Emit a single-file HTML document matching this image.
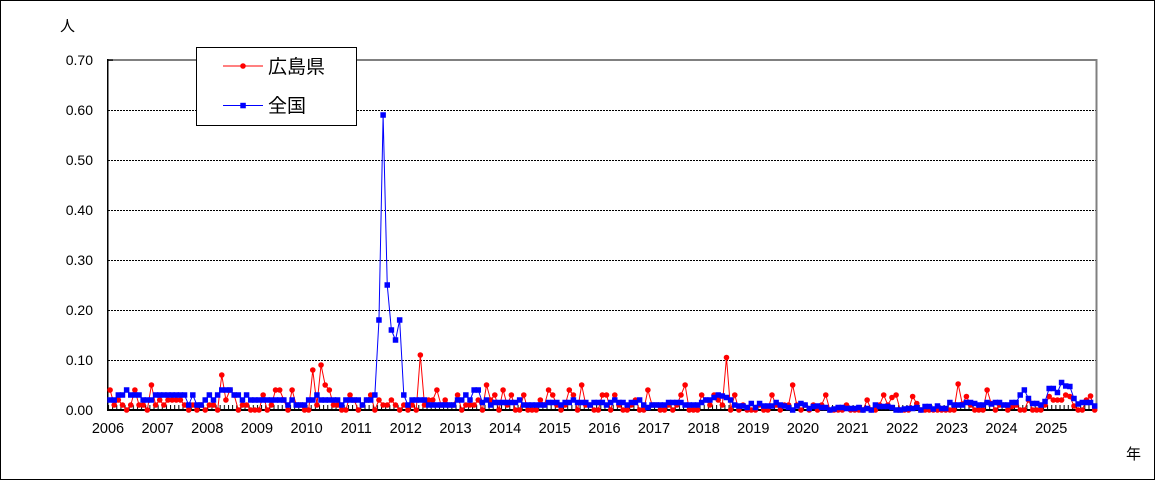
<!DOCTYPE html>
<html><head><meta charset="utf-8">
<style>
html,body{margin:0;padding:0;background:#fff;}
#wrap{position:relative;width:1155px;height:480px;overflow:hidden;}
svg{position:absolute;left:0;top:0;}
text{font-family:"Liberation Sans","Noto Sans CJK JP",sans-serif;fill:#000;}
</style></head>
<body><div id="wrap">
<svg id="chart" width="1155" height="480" viewBox="0 0 1155 480" xmlns="http://www.w3.org/2000/svg">
<defs>
<pattern id="tk" x="108" y="405" width="4.137" height="5" patternUnits="userSpaceOnUse">
<rect x="0" y="0" width="1" height="5" fill="#000"/>
</pattern>
</defs>
<rect x="0.5" y="0.5" width="1154" height="479" fill="#fff" stroke="#000" stroke-width="1"/>
<g stroke="#000" stroke-width="1" stroke-dasharray="2,1">
<line x1="108" y1="110.5" x2="1096" y2="110.5"/>
<line x1="108" y1="160.5" x2="1096" y2="160.5"/>
<line x1="108" y1="210.5" x2="1096" y2="210.5"/>
<line x1="108" y1="260.5" x2="1096" y2="260.5"/>
<line x1="108" y1="310.5" x2="1096" y2="310.5"/>
<line x1="108" y1="360.5" x2="1096" y2="360.5"/>
</g>
<rect x="108" y="59" width="989" height="2" fill="#808080"/>
<rect x="1095.5" y="59" width="2" height="352" fill="#808080"/>
<rect x="107" y="59" width="1.5" height="352" fill="#000"/>
<rect x="108" y="59.5" width="5" height="1.2" fill="#000"/>
<rect x="108" y="405" width="988" height="5" fill="url(#tk)"/>
<rect x="107" y="409" width="989" height="2" fill="#000"/>
<g font-size="14" text-anchor="end">
<text x="93" y="65">0.70</text>
<text x="93" y="115">0.60</text>
<text x="93" y="165">0.50</text>
<text x="93" y="215">0.40</text>
<text x="93" y="265">0.30</text>
<text x="93" y="315">0.20</text>
<text x="93" y="365">0.10</text>
<text x="93" y="415">0.00</text>
</g>
<g font-size="14.5" text-anchor="middle">
<text x="108" y="433">2006</text>
<text x="157.6" y="433">2007</text>
<text x="207.3" y="433">2008</text>
<text x="256.9" y="433">2009</text>
<text x="306.6" y="433">2010</text>
<text x="356.2" y="433">2011</text>
<text x="405.8" y="433">2012</text>
<text x="455.5" y="433">2013</text>
<text x="505.1" y="433">2014</text>
<text x="554.8" y="433">2015</text>
<text x="604.4" y="433">2016</text>
<text x="654.0" y="433">2017</text>
<text x="703.7" y="433">2018</text>
<text x="753.3" y="433">2019</text>
<text x="803.0" y="433">2020</text>
<text x="852.6" y="433">2021</text>
<text x="902.2" y="433">2022</text>
<text x="951.9" y="433">2023</text>
<text x="1001.5" y="433">2024</text>
<text x="1051.2" y="433">2025</text>
</g>
<text x="60" y="31" font-size="15">人</text>
<text x="1126" y="459" font-size="15">年</text>
<g id="series"></g>
<rect x="196.5" y="47.5" width="160" height="78" fill="#fff" stroke="#000" stroke-width="1"/>
<line x1="223" y1="66" x2="263" y2="66" stroke="#f00" stroke-width="1"/>
<circle cx="243" cy="66" r="2.8" fill="#f00"/>
<text x="268" y="73" font-size="19">広島県</text>
<line x1="223" y1="105.5" x2="263" y2="105.5" stroke="#00f" stroke-width="1"/>
<rect x="240.3" y="102.8" width="5.5" height="5.5" fill="#00f"/>
<text x="268" y="112" font-size="19">全国</text>
</svg>
</div>
<script>
var R=[0.04,0.01,0.02,0.01,0,0.01,0.04,0.01,0.01,0,
0.05,0.01,0.02,0.01,0.02,0.02,0.02,0.02,0.01,0,
0.01,0,0.01,0,0.01,0.01,0,0.07,0.02,0.04,
0.03,0,0.01,0.01,0,0,0,0.03,0,0.01,
0.04,0.04,0.02,0,0.04,0.01,0.01,0,0,0.08,
0.01,0.09,0.05,0.04,0.01,0.01,0,0,0.03,0.02,
0,0.01,0.02,0.03,0,0.02,0.01,0.01,0.02,0.01,
0,0.01,0,0.01,0,0.11,0.01,0.02,0.02,0.04,
0.01,0.02,0.01,0.01,0.03,0,0.01,0.01,0.01,0.02,
0,0.05,0.02,0.03,0,0.04,0.01,0.03,0,0,
0.03,0,0,0,0.02,0.01,0.04,0.03,0.01,0,
0.01,0.04,0.03,0,0.05,0.01,0.01,0,0,0.03,
0.03,0,0.03,0.01,0,0,0.01,0.02,0,0,
0.04,0.01,0.01,0,0,0.01,0,0.01,0.03,0.05,
0,0,0,0.03,0.02,0.01,0.03,0.02,0.01,0.105,
0,0.03,0,0.01,0,0,0,0.01,0,0,
0.03,0.01,0,0.01,0.01,0.05,0.01,0,0.01,0,
0.01,0,0.01,0.03,0,0,0,0,0.01,0,
0,0,0,0.02,0,0,0.01,0.03,0.01,0.025,
0.03,0,0,0,0.027,0.013,0,0,0,0,
0,0,0,0,0,0.052,0.012,0.027,0.01,0,
0,0,0.04,0.013,0,0.01,0.01,0,0.007,0.01,
0,0,0.02,0,0,0,0.01,0.027,0.02,0.02,
0.02,0.03,0.027,0.008,0,0,0.02,0.028,0];
var B=[0.02,0.02,0.03,0.03,0.04,0.03,0.03,0.03,0.02,0.02,
0.02,0.03,0.03,0.03,0.03,0.03,0.03,0.03,0.03,0.01,
0.03,0.01,0.01,0.02,0.03,0.02,0.03,0.04,0.04,0.04,
0.03,0.03,0.02,0.03,0.02,0.02,0.02,0.02,0.02,0.02,
0.02,0.02,0.02,0.01,0.02,0.01,0.01,0.01,0.02,0.02,
0.03,0.02,0.02,0.02,0.02,0.02,0.01,0.02,0.02,0.02,
0.02,0.01,0.02,0.02,0.03,0.18,0.59,0.25,0.16,0.14,
0.18,0.03,0.01,0.02,0.02,0.02,0.02,0.01,0.01,0.01,
0.01,0.01,0.01,0.01,0.02,0.02,0.03,0.02,0.04,0.04,
0.015,0.02,0.01,0.015,0.015,0.015,0.015,0.015,0.015,0.02,
0.01,0.01,0.01,0.01,0.01,0.01,0.015,0.015,0.015,0.01,
0.015,0.015,0.02,0.015,0.015,0.015,0.01,0.015,0.015,0.015,
0.01,0.015,0.02,0.015,0.015,0.01,0.015,0.015,0.02,0.01,
0.005,0.01,0.01,0.01,0.01,0.015,0.015,0.015,0.015,0.01,
0.01,0.01,0.01,0.015,0.02,0.02,0.025,0.03,0.028,0.025,
0.02,0.01,0.008,0.008,0.005,0.013,0.005,0.013,0.008,0.008,
0.008,0.015,0.01,0.008,0.005,0,0.008,0.013,0.01,0.003,
0.007,0.008,0.005,0.005,0,0.002,0.005,0.005,0.003,0.003,
0.003,0.005,0,0.003,0,0.01,0.007,0.007,0.007,0.005,
0,0,0.002,0.003,0.003,0.005,0,0.007,0.007,0.002,
0.008,0.003,0.003,0.015,0.01,0.01,0.01,0.015,0.015,0.013,
0.01,0.01,0.015,0.012,0.015,0.015,0.01,0.01,0.015,0.015,
0.03,0.04,0.023,0.013,0.013,0.01,0.017,0.043,0.043,0.035,
0.055,0.048,0.047,0.023,0.012,0.015,0.015,0.015,0.008];
(function(){
var NS="http://www.w3.org/2000/svg";
var g=document.getElementById("series");
function X(i){return 110.07+4.137*i;}
function Y(v){return 410-500*v;}
function line(arr,col){
 var p=[];for(var i=0;i<arr.length;i++){p.push(X(i).toFixed(2)+","+Y(arr[i]).toFixed(2));}
 var pl=document.createElementNS(NS,"polyline");
 pl.setAttribute("points",p.join(" "));pl.setAttribute("fill","none");
 pl.setAttribute("stroke",col);pl.setAttribute("stroke-width","1");
 g.appendChild(pl);
}
line(R,"#ff0000");
for(var i=0;i<R.length;i++){
 var c=document.createElementNS(NS,"circle");
 c.setAttribute("cx",X(i).toFixed(2));c.setAttribute("cy",Y(R[i]).toFixed(2));
 c.setAttribute("r","2.8");c.setAttribute("fill","#ff0000");g.appendChild(c);
}
line(B,"#0000ff");
for(var i=0;i<B.length;i++){
 var r=document.createElementNS(NS,"rect");
 r.setAttribute("x",(X(i)-2.75).toFixed(2));r.setAttribute("y",(Y(B[i])-2.75).toFixed(2));
 r.setAttribute("width","5.5");r.setAttribute("height","5.5");r.setAttribute("fill","#0000ff");g.appendChild(r);
}
})();
</script>
</body></html>
